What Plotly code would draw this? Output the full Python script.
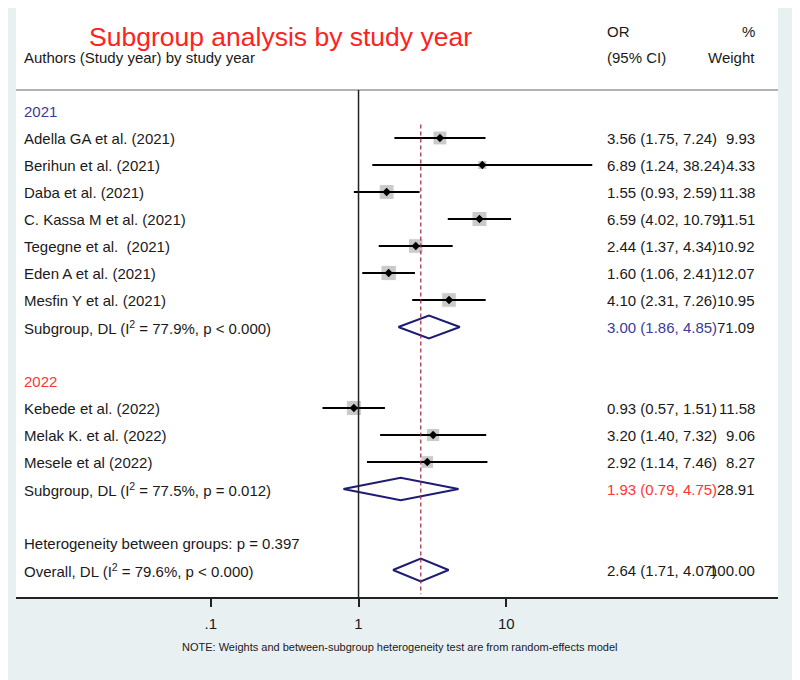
import plotly.graph_objects as go

# study-level data, grouped by study year
years = ["2021", "2022"]
year_colors = ["#3b3b9a", "#ff3535"]

studies = [
    ["Adella GA et al. (2021)", "Berihun et al. (2021)", "Daba et al. (2021)",
     "C. Kassa M et al. (2021)", "Tegegne et al.  (2021)", "Eden A et al. (2021)",
     "Mesfin Y et al. (2021)"],
    ["Kebede et al. (2022)", "Melak K. et al. (2022)", "Mesele et al (2022)"],
]
odds = [[3.56, 6.89, 1.55, 6.59, 2.44, 1.60, 4.10], [0.93, 3.20, 2.92]]
ci_low = [[1.75, 1.24, 0.93, 4.02, 1.37, 1.06, 2.31], [0.57, 1.40, 1.14]]
ci_high = [[7.24, 38.24, 2.59, 10.79, 4.34, 2.41, 7.26], [1.51, 7.32, 7.46]]
weights = [[9.93, 4.33, 11.38, 11.51, 10.92, 12.07, 10.95], [11.58, 9.06, 8.27]]

sub_or = [3.00, 1.93]
sub_low = [1.86, 0.79]
sub_high = [4.85, 4.75]
sub_weight = [71.09, 28.91]
sub_i2 = ["77.9%", "77.5%"]
sub_p = ["p < 0.000", "p = 0.012"]

overall = dict(est=2.64, low=1.71, high=4.07, weight=100.00, i2="79.6%", p="p < 0.000")
het_p = "0.397"

FONT = "Liberation Sans, Arial, sans-serif"
BG = "#e9f0f2"
W, H = 800.0, 680.0
OFF = 8  # the page body adds an 8px margin around the figure

fig = go.Figure()
ann = []


def px_x(p):
    return (p - OFF) / W


def left_text(row, text, color="#1a1a1a", px=22):
    ann.append(dict(x=px_x(px), xref="paper", y=row, yref="y", text=text,
                    xanchor="left", yanchor="middle", showarrow=False,
                    font=dict(family=FONT, size=15, color=color)))


def right_text(row, text, color="#1a1a1a", px=757):
    ann.append(dict(x=px_x(px), xref="paper", y=row, yref="y", text=text,
                    xanchor="right", yanchor="middle", showarrow=False,
                    font=dict(family=FONT, size=15, color=color)))


def diamond(est, lo, hi, row, h=0.42):
    fig.add_trace(go.Scatter(x=[lo, est, hi, est, lo], y=[row, row - h, row, row + h, row],
                             mode="lines", line=dict(color="#1c1c72", width=2),
                             hoverinfo="skip"))


row = 1
for g, year in enumerate(years):
    left_text(row, year, year_colors[g])
    row += 1
    rows = []
    for i, name in enumerate(studies[g]):
        left_text(row, name)
        left_text(row, "%.2f (%.2f, %.2f)" % (odds[g][i], ci_low[g][i], ci_high[g][i]), px=605)
        right_text(row, "%.2f" % weights[g][i])
        rows.append(row)
        row += 1
    # weight squares
    fig.add_trace(go.Scatter(x=odds[g], y=rows, mode="markers",
                             marker=dict(symbol="square", color="#b4b4b4",
                                         size=[4.4 * w ** 0.5 for w in weights[g]]),
                             hoverinfo="skip"))
    # confidence intervals
    xs, ys = [], []
    for i, r in enumerate(rows):
        xs += [ci_low[g][i], ci_high[g][i], None]
        ys += [r, r, None]
    fig.add_trace(go.Scatter(x=xs, y=ys, mode="lines", line=dict(color="black", width=2.2),
                             hoverinfo="skip"))
    fig.add_trace(go.Scatter(x=odds[g], y=rows, mode="markers",
                             marker=dict(symbol="diamond", color="black", size=6.5),
                             hoverinfo="skip"))
    # subgroup pooled estimate
    left_text(row, "Subgroup, DL (I<sup>2</sup> = %s, %s)" % (sub_i2[g], sub_p[g]))
    left_text(row, "%.2f (%.2f, %.2f)" % (sub_or[g], sub_low[g], sub_high[g]),
              year_colors[g], px=605)
    right_text(row, "%.2f" % sub_weight[g])
    diamond(sub_or[g], sub_low[g], sub_high[g], row)
    row += 2

left_text(row, "Heterogeneity between groups: p = %s" % het_p)
row += 1
left_text(row, "Overall, DL (I<sup>2</sup> = %s, %s)" % (overall["i2"], overall["p"]))
left_text(row, "%.2f (%.2f, %.2f)" % (overall["est"], overall["low"], overall["high"]), px=605)
right_text(row, "%.2f" % overall["weight"])
diamond(overall["est"], overall["low"], overall["high"], row)
last_row = row

# headers
ann.append(dict(x=px_x(280), xref="paper", y=-1.74, yref="y", text="Subgroup analysis by study year",
                showarrow=False, xanchor="center", yanchor="middle",
                font=dict(family=FONT, size=26.5, color="#ff2222")))
left_text(-1.93, "OR", px=605)
right_text(-1.93, "%")
left_text(-0.98, "Authors (Study year) by study year")
left_text(-0.98, "(95% CI)", px=605)
right_text(-0.98, "Weight")

ann.append(dict(x=px_x(400), xref="paper", y=(H - (647 - OFF)) / H, yref="paper",
                text="NOTE: Weights and between-subgroup heterogeneity test are from random-effects model",
                showarrow=False, xanchor="center", yanchor="middle",
                font=dict(family=FONT, size=11, color="#1a1a1a")))

# reference lines
fig.add_shape(type="line", xref="paper", yref="y", x0=px_x(16), x1=px_x(778), y0=0.22, y1=0.22,
              line=dict(color="#9a9a9a", width=1.5))
fig.add_shape(type="line", xref="x", yref="y", x0=1, x1=1, y0=0.22, y1=last_row + 1,
              line=dict(color="#222222", width=1.5))
fig.add_shape(type="line", xref="x", yref="y", x0=overall["est"], x1=overall["est"],
              y0=1.5, y1=last_row + 0.9, line=dict(color="#a3243a", width=1.2, dash="4px,3px"))

# rows are 27px apart; row 1 sits at page y=111, the axis at page y=597
top_row = (OFF - 111) / 27.0 + 1
fig.update_layout(
    width=800, height=680, margin=dict(l=0, r=0, t=0, b=0),
    paper_bgcolor=BG, plot_bgcolor="white", showlegend=False,
    annotations=ann,
    xaxis=dict(type="log", range=[-2.319, 2.840], domain=[px_x(16), px_x(778)],
               tickvals=[0.1, 1, 10], ticktext=[".1", "1", "10"],
               ticks="outside", ticklen=8, tickwidth=1.5, tickcolor="#222",
               showline=True, linecolor="#222", linewidth=1.5,
               showgrid=False, zeroline=False, ticklabelstandoff=4,
               tickfont=dict(family=FONT, size=15, color="#1a1a1a")),
    yaxis=dict(range=[last_row + 1, top_row], domain=[(H - (597 - OFF)) / H, 1.0], visible=False),
)

fig.write_html("out.html")
